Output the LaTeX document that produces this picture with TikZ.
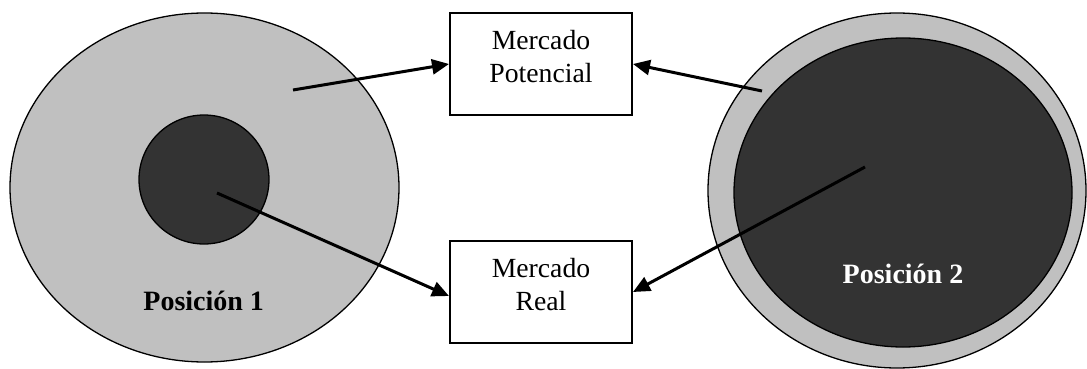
\documentclass[tikz,border=0pt]{standalone}
\usepackage{fontspec}
\setmainfont{Liberation Serif}
\usetikzlibrary{shapes.geometric,arrows.meta}
\definecolor{lightfill}{HTML}{C0C0C0}
\definecolor{darkfill}{HTML}{333333}
\tikzset{
  blob/.style={ellipse, draw=black, line width=1.3pt, inner sep=0pt},
  mbox/.style={rectangle, draw=black, line width=2pt, fill=white, minimum width=182pt, minimum height=102pt, inner sep=0pt},
  lbl/.style={align=center, inner sep=0pt, font=\fontsize{27.7}{33.3}\selectfont},
  poslbl/.style={inner sep=0pt, font=\fontsize{28}{33}\selectfont\bfseries, anchor=base},
  arr/.style={line width=3pt, -{Triangle[length=17pt,width=15pt]}}
}
\begin{document}
\begin{tikzpicture}[x=1pt,y=-1pt]
\useasboundingbox (0,0) rectangle (1087,369);
% left position
\node[blob, fill=lightfill, minimum width=389pt, minimum height=349pt] (o1) at (204.5,187.5) {};
\node[blob, fill=darkfill, minimum width=130pt, minimum height=129pt] (i1) at (204,179.5) {};
\node[poslbl] (t1) at (203.7,310.7) {Posición 1};
% right position
\node[blob, fill=lightfill, minimum width=378pt, minimum height=355pt] (o2) at (897,190.5) {};
\node[blob, fill=darkfill, minimum width=338pt, minimum height=309pt] (i2) at (903,192.5) {};
\node[poslbl, text=white] (t2) at (903,283.3) {Posición 2};
% boxes
\node[mbox] (p) at (541,64) {};
\node[lbl, anchor=north] (pt) at ([yshift=-18pt]p.north) {Mercado\\Potencial};
\node[mbox] (r) at (541,292) {};
\node[lbl, anchor=north] (rt) at ([yshift=-18pt]r.north) {Mercado\\Real};
% free ends
\coordinate (s1) at (293,90);
\coordinate (s2) at (217,193);
\coordinate (s3) at (762,91);
\coordinate (s4) at (865,167);
% arrows
\draw[arr] (s1) -- (p.west);
\draw[arr] (s2) -- ([yshift=-4pt]r.west);
\draw[arr] (s3) -- (p.east);
\draw[arr] (s4) -- (r.east);
\end{tikzpicture}
\end{document}
